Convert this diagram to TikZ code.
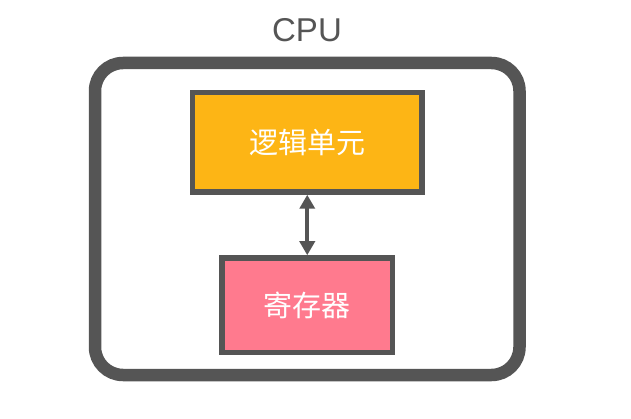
\documentclass[tikz,border=0pt]{standalone}
\usepackage{fontspec}
\setmainfont{Liberation Sans}
\newfontfamily\cjk{Noto Sans CJK SC}
\usetikzlibrary{arrows.meta}
\definecolor{framegray}{HTML}{555555}
\definecolor{logicorange}{HTML}{FDB515}
\definecolor{regpink}{HTML}{FF7A8E}
\tikzset{
  unitbox/.style={draw=framegray, line width=5.5pt, minimum width=#1, inner sep=0pt},
  unitlabel/.style={text=white, font=\cjk\fontsize{29}{32}\selectfont},
  bitip/.style={{Triangle[width=15pt,length=14pt]}-{Triangle[width=15pt,length=14pt]}},
}
\begin{document}
\begin{tikzpicture}[x=1pt,y=-1pt]
\useasboundingbox (0,0) rectangle (631,419);
\fill[white] (0,0) rectangle (631,419);
\node[text=framegray, font=\fontsize{33}{36}\selectfont] (cpu) at (307,30) {CPU};
\draw[framegray, line width=12.5pt, rounded corners=28pt] (95,63) rectangle (519.5,375);
\node[unitbox=229.5pt, minimum height=99.5pt, fill=logicorange, unitlabel] (logic) at (307.25,142.25) {逻辑单元};
\node[unitbox=170.5pt, minimum height=94.5pt, fill=regpink, unitlabel] (reg) at (307.25,305.25) {寄存器};
\draw[framegray, line width=4pt, bitip] (logic.south) -- (reg.north);
\end{tikzpicture}
\end{document}
